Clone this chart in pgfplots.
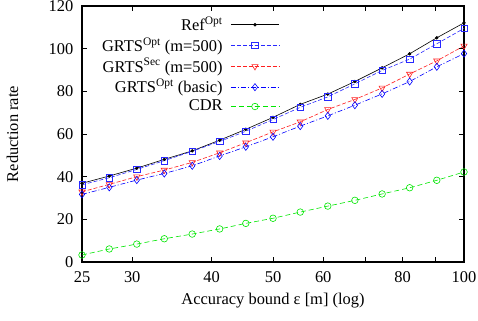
\documentclass[border=0pt]{standalone}
\usepackage{pgfplots}
\pgfplotsset{compat=1.18}
\usepackage{fontspec}
\setmainfont{Liberation Serif}
\definecolor{cblk}{RGB}{0,0,0}
\definecolor{cblu}{RGB}{40,40,255}
\definecolor{cblu2}{RGB}{0,0,255}
\definecolor{cred}{RGB}{255,30,30}
\definecolor{cgrn}{RGB}{0,230,0}
\pgfplotstableread{
x ref grtsopt grtssec grtsbasic cdr
25.0 36.9 36.2 32.9 31.7 3.3
27.6 40.3 39.5 36.4 35.0 6.1
30.5 44.0 43.4 40.0 38.4 8.4
33.7 48.1 47.5 43.1 41.5 10.9
37.3 52.1 51.9 46.7 45.1 13.1
41.2 57.1 56.5 51.2 49.7 15.5
45.3 62.2 61.3 55.9 54.0 18.1
50.0 67.8 66.8 61.0 58.7 20.5
55.2 73.9 72.5 65.7 63.7 23.4
61.0 78.7 77.4 71.5 68.5 26.2
67.3 84.6 83.5 76.2 73.5 28.9
74.3 91.0 89.8 81.6 78.8 31.9
82.1 97.6 95.1 88.1 84.6 34.8
90.6 105.1 102.3 94.3 91.5 38.3
100.0 112.1 109.5 101.3 97.7 42.2
}\datatable
\begin{document}
\fontsize{16.5}{19}\selectfont
\begin{tikzpicture}
\begin{axis}[
  at={(0,0)}, anchor=south west,
  scale only axis,
  width=382bp, height=256bp,
  xmode=log,
  xmin=25, xmax=100,
  ymin=0, ymax=120,
  xtick={25,30,40,50,60,70,80,90,100},
  xticklabels={25,30,40,50,60,,80,,100},
  ytick={0,20,40,60,80,100,120},
  minor xtick={},
  log ticks with fixed point,
  tick align=inside,
  major tick length=5pt,
  axis line style={line width=1.2pt},
  every tick/.style={black, line width=0.6pt},
  /pgf/number format/assume math mode=true,
  tick label style={font=\fontsize{16.5}{19}\selectfont},
  label style={font=\fontsize{16.5}{19}\selectfont},
  yticklabel style={xshift=-3pt},
  xticklabel style={yshift=-4pt},
  xlabel={Accuracy bound ε [m] (log)},
  ylabel={Reduction rate},
  every axis x label/.style={at={(axis description cs:0.5,-0.150)}, anchor=center},
  every axis y label/.style={at={(axis description cs:-0.182,0.5)}, rotate=90, anchor=center},
  legend style={draw=none, fill=none, at={(0.525,0.975)}, anchor=north east,
    font=\fontsize{16.5}{19}\selectfont, row sep=0.5pt,
    /tikz/every odd column/.append style={column sep=6pt}},
  legend cell align=right,
  legend plot pos=right,
  legend image code/.code={\draw[mark repeat=2,mark phase=2] plot coordinates {(0cm,0cm) (0.85cm,0cm) (1.7cm,0cm)};},
]
\addplot[cblk, line width=0.6pt, mark=*, mark size=1.4pt] table[x=x,y=ref] {\datatable};
\addlegendentry{Ref\textsuperscript{Opt}}
\addplot[cblu, line width=0.6pt, dash pattern=on 4pt off 2pt, mark=square, mark size=3.2pt, mark options={solid}] table[x=x,y=grtsopt] {\datatable};
\addlegendentry{GRTS\textsuperscript{Opt} (m=500)}
\addplot[cred, line width=0.6pt, dash pattern=on 4pt off 2pt, mark=triangle, mark size=3.6pt, mark options={solid, rotate=180}] table[x=x,y=grtssec] {\datatable};
\addlegendentry{GRTS\textsuperscript{Sec} (m=500)}
\addplot[cblu2, line width=0.6pt, dash pattern=on 5pt off 2pt on 1pt off 2pt, mark=diamond, mark size=3.6pt, mark options={solid}] table[x=x,y=grtsbasic] {\datatable};
\addlegendentry{GRTS\textsuperscript{Opt} (basic)}
\addplot[cgrn, line width=0.6pt, dash pattern=on 5pt off 3pt, mark=o, mark size=3.3pt, mark options={solid}] table[x=x,y=cdr] {\datatable};
\addlegendentry{CDR}
\end{axis}
\pgfresetboundingbox
\path (-82bp,-59bp) rectangle (396bp,262bp);
\end{tikzpicture}
\end{document}
